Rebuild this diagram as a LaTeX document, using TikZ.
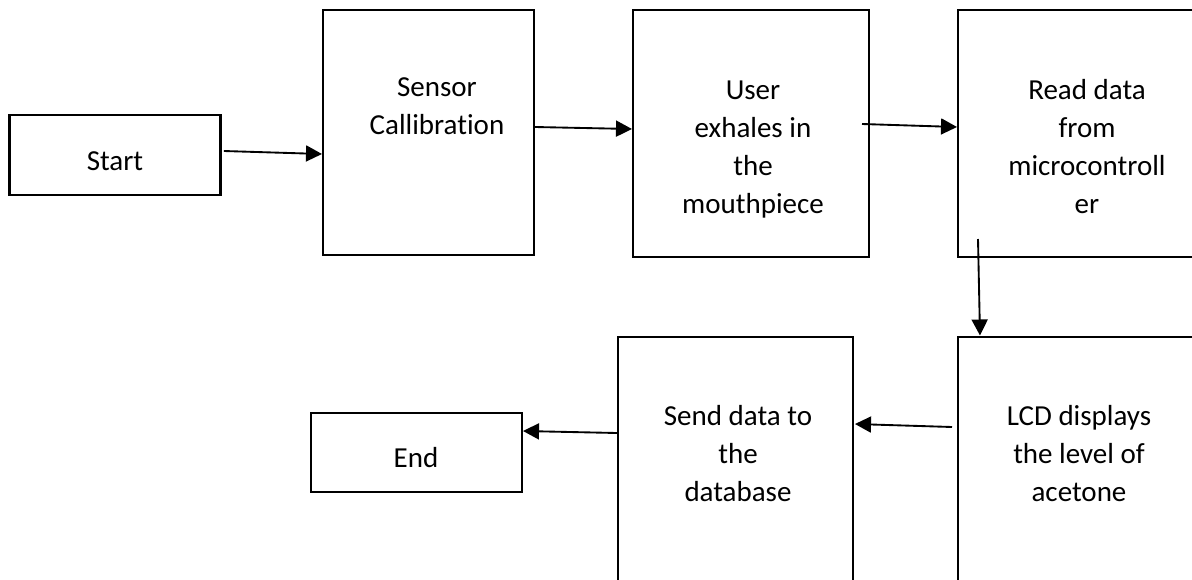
\documentclass[tikz,border=0pt]{standalone}
\usepackage{fontspec}
\setmainfont{Carlito}[Ligatures=NoCommon]
\usetikzlibrary{arrows.meta}

\tikzset{
  stepbox/.style 2 args={draw=black, line width=2pt, inner sep=0pt, outer sep=0pt,
    minimum width=#1*0.75pt, minimum height=#2*0.75pt},
  steptext/.style={align=center, inner sep=0pt, font=\fontsize{21.75pt}{28.4pt}\selectfont},
  flow/.style={draw=black, line width=1.4pt, -{Triangle[length=12pt, width=12pt]}},
}

\begin{document}
\begin{tikzpicture}[x=0.75pt, y=-0.75pt]
  \useasboundingbox (0,0) rectangle (1192,579);
  \clip (0,0) rectangle (1192,579);
  \fill[white] (0,0) rectangle (1192,579);

  % process boxes (top row, then bottom row)
  \node[stepbox={211}{80}]  (start)  at (115.3,155)   {};
  \node[stepbox={211}{245}] (sensor) at (428.5,132.5) {};
  \node[stepbox={236}{247}] (user)   at (751,133.5)   {};
  \node[stepbox={258}{247}] (read)   at (1087,133.5)  {};
  \node[stepbox={242}{283}] (lcd)    at (1079,478.5)  {};
  \node[stepbox={235}{283}] (send)   at (735.5,478.5) {};
  \node[stepbox={211}{79}]  (end)    at (416.5,452.5) {};

  % box captions
  \node[steptext] (tstart)  at (115,161)   {Start};
  \node[steptext] (tsensor) at (437,106.5) {Sensor\\Callibration};
  \node[steptext] (tuser)   at (753,149.5) {User\\exhales in\\the\\mouthpiece};
  \node[steptext] (tread)   at (1087,146.5){Read data\\from\\microcontroll\\er};
  \node[steptext] (tlcd)    at (1079,453.5){LCD displays\\the level of\\acetone};
  \node[steptext] (tsend)   at (738,453.5) {Send data to\\the\\database};
  \node[steptext] (tend)    at (416,458)   {End};

  % connectors
  \draw[flow] ([shift={(3,-4)}]start.east)        -- ([shift={(-1,21.5)}]sensor.west);
  \draw[flow] ([shift={(1,-5.5)}]sensor.east)     -- ([shift={(-1,-4.5)}]user.west);
  \draw[flow] ([shift={(-7,-9.5)}]user.east)      -- ([shift={(-1,-6.5)}]read.west);
  \draw[flow] ([shift={(20,-18)}]read.south west) -- ([shift={(22,-1.5)}]lcd.north west);
  \draw[flow] ([shift={(-6,-51.5)}]lcd.west)      -- ([shift={(2,-54.5)}]send.east);
  \draw[flow] ([shift={(-1,-45.5)}]send.west)     -- ([shift={(1,-21.5)}]end.east);
\end{tikzpicture}
\end{document}
